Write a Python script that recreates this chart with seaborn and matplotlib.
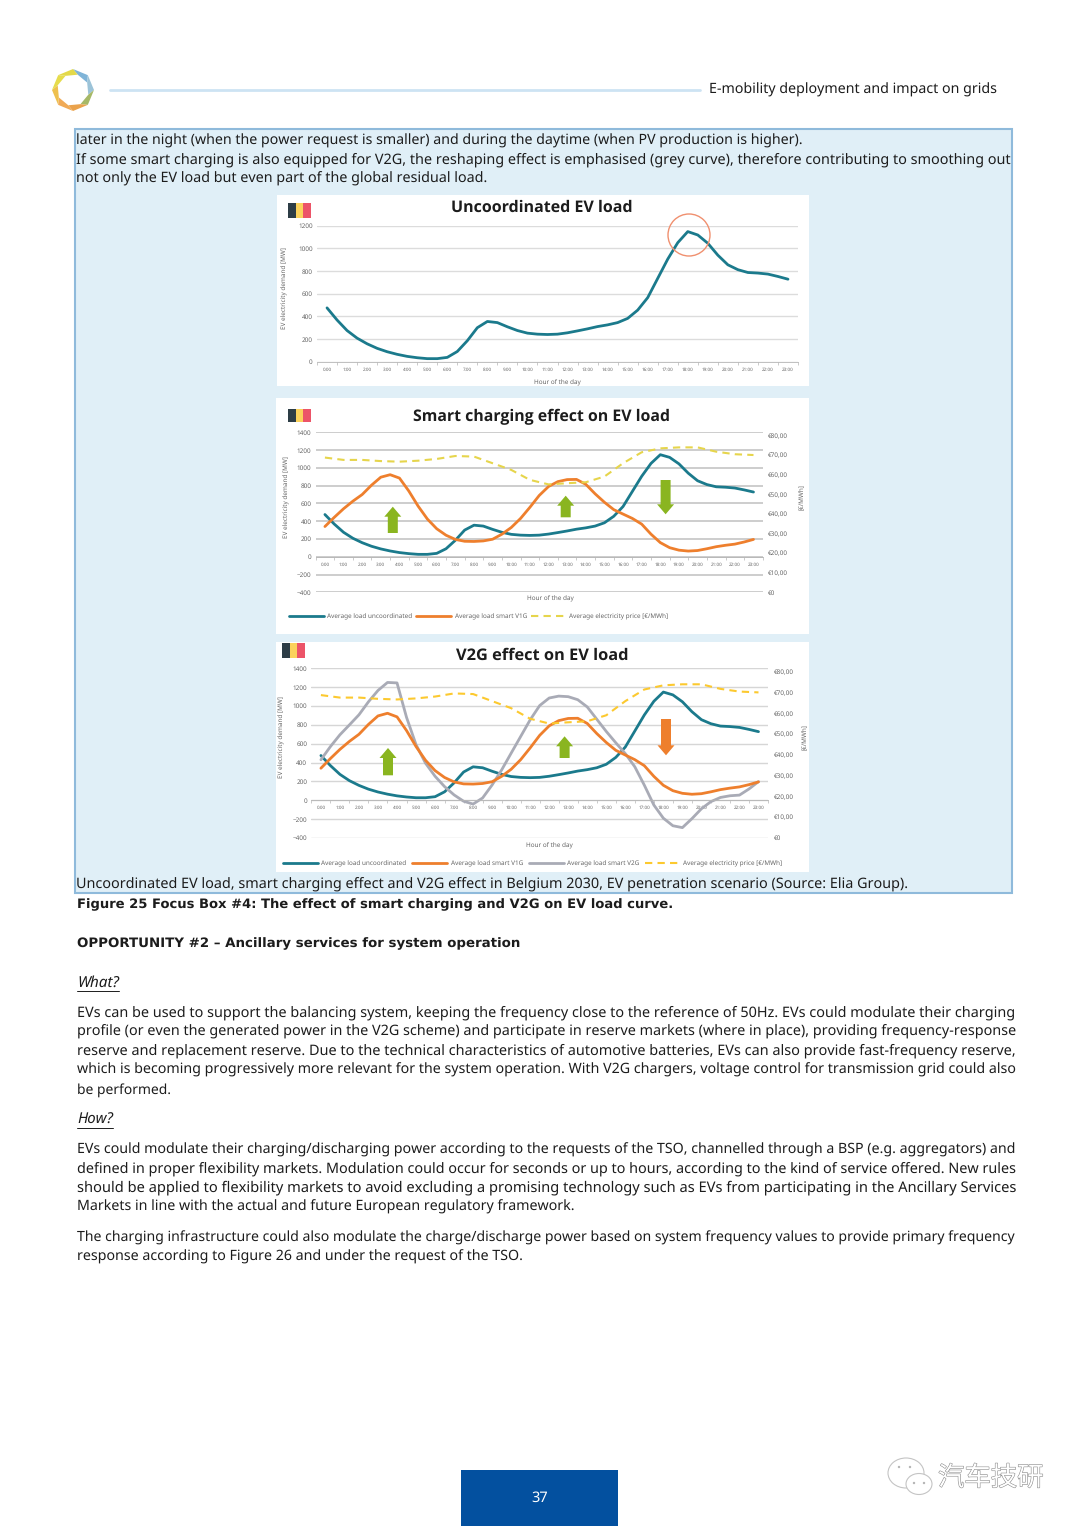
import matplotlib
matplotlib.use("Agg")
import matplotlib.pyplot as plt
import matplotlib.patheffects as pe
from matplotlib.lines import Line2D
from matplotlib.patches import Circle, Ellipse, FancyArrow, Polygon, Rectangle
import numpy as np
import pandas as pd
import seaborn as sns

sns.set_theme(style="white")
plt.rcParams['font.family'] = ['Noto Sans', 'DejaVu Sans']
plt.rcParams['text.hinting'] = 'no_hinting'

W, H = 1080, 1526

# values, half-hourly from 0:00 to 23:00
half_hours = [i / 2 for i in range(47)]
uncoordinated = [475, 368, 275, 208, 158, 118, 88, 65, 47, 35, 27, 27, 38, 90, 185, 300,
                 355, 345, 308, 275, 252, 243, 240, 243, 255, 272, 290, 310, 325, 345, 382, 455,
                 565, 735, 905, 1050, 1148, 1118, 1045, 940, 855, 812, 787, 782, 773, 752, 728]
smart_v1g = [340, 443, 540, 625, 700, 805, 895, 923, 885, 740, 570, 424, 315, 242, 195, 174,
             172, 178, 197, 254, 329, 431, 556, 689, 790, 845, 868, 870, 815, 708, 613, 530,
             480, 431, 367, 254, 159, 102, 74, 64, 70, 90, 113, 129, 142, 166, 195]
smart_v2g = [430, 570, 695, 800, 907, 1045, 1165, 1250, 1245, 880, 590, 393, 255, 145, 57, -10,
             -40, 25, 163, 322, 500, 677, 854, 1005, 1085, 1105, 1099, 1067, 990, 860, 730, 610,
             495, 355, 160, -50, -190, -270, -290, -195, -90, -14, 30, 48, 55, 120, 198]

# hourly price on the right axis
hours = list(range(24))
price = [68.8, 67.6, 67.6, 67.0, 66.7, 67.2, 68.1, 69.6, 69.3, 65.9, 62.5, 57.4,
         55.1, 55.7, 56.2, 59.1, 65.9, 71.5, 73.5, 74.0, 74.0, 71.8, 70.5, 70.1]

hour_labels = [f"{h}:00" for h in hours]
load_ticks_1 = [0, 200, 400, 600, 800, 1000, 1200]
load_ticks_2 = [-400, -200, 0, 200, 400, 600, 800, 1000, 1200, 1400]
price_ticks = [0, 10, 20, 30, 40, 50, 60, 70, 80]
price_labels = ["€0"] + [f"€{p},00" for p in price_ticks[1:]]

TEAL = '#1b7a8c'
ORANGE = '#ee7f2d'
GREY = '#a9abb6'
YELLOW = '#fcc92f'
PALE_YELLOW = '#e6d54c'
GREEN = '#8ab520'
LABEL = '#666666'

load_df = pd.DataFrame({'hour': half_hours, 'uncoordinated': uncoordinated,
                        'v1g': smart_v1g, 'v2g': smart_v2g})
price_df = pd.DataFrame({'hour': hours, 'price': price})

fig = plt.figure(figsize=(W / 100, H / 100), dpi=100, facecolor='white')

# page layer in pixel coordinates
bg = fig.add_axes([0, 0, 1, 1], zorder=0)
top = fig.add_axes([0, 0, 1, 1], zorder=5)
for a in (bg, top):
    a.set_xlim(0, W)
    a.set_ylim(H, 0)
    a.axis('off')
    a.patch.set_alpha(0)

renderer = fig.canvas.get_renderer()


def fit_text(x, y, s, right=None, size=10.5, ax=bg, color='#1c1c1c', **kw):
    # scale the font so that the line ends where it ends in the picture
    t = ax.text(x, y + 1, s, va='center', ha='left', fontsize=size, color=color, **kw)
    if right is not None:
        for _ in range(2):
            width = t.get_window_extent(renderer).width
            t.set_fontsize(t.get_fontsize() * (right - x) / width)
    return t


def flag(x0, x1, y0, y1):
    w = (x1 - x0) / 3
    for i, c in enumerate(['#2d3d46', '#fbd25c', '#ec5468']):
        bg.add_patch(Rectangle((x0 + i * w, y0), w, y1 - y0, color=c, lw=0, zorder=3))


def arrow(x, y0, y1, color):
    # y0 is the tail, y1 the tip
    top.add_patch(FancyArrow(x, y0, 0, y1 - y0, width=10, head_width=17, head_length=10,
                             length_includes_head=True, color=color, lw=0))


def load_axes(left, right, y_top, y_bot, ymin, ymax, ticks, grid, lw):
    ax = fig.add_axes([left / W, 1 - y_bot / H, (right - left) / W, (y_bot - y_top) / H], zorder=2)
    ax.patch.set_alpha(0)
    ax.set_xlim(-0.5, 23.5)
    ax.set_ylim(ymin, ymax)
    ax.set_yticks(ticks)
    ax.tick_params(axis='y', length=0, labelsize=4.6, labelcolor=LABEL, pad=3)
    ax.set_xticks(hours)
    ax.set_xticklabels(hour_labels)
    ax.tick_params(axis='x', which='major', length=0, labelsize=3.3, labelcolor=LABEL, pad=4)
    ax.set_xticks([h - 0.5 for h in hours] + [23.5], minor=True)
    ax.tick_params(axis='x', which='minor', length=2, width=0.5, color='#b5b5b5', bottom=True)
    ax.grid(axis='y', color=grid, lw=lw)
    ax.set_axisbelow(True)
    sns.despine(ax=ax, left=True, top=True, right=True)
    ax.spines['bottom'].set_position(('data', 0))
    ax.spines['bottom'].set_color('#b5b5b5')
    ax.spines['bottom'].set_linewidth(0.6)
    ax.set_xlabel('')
    return ax


def price_axes(ax, top_value):
    ax2 = ax.twinx()
    ax2.set_ylim(0, top_value)
    ax2.set_yticks(price_ticks)
    ax2.set_yticklabels(price_labels)
    ax2.tick_params(axis='y', length=0, labelsize=4.6, labelcolor=LABEL, pad=4)
    ax2.grid(False)
    ax2.patch.set_alpha(0)
    for s in ax2.spines.values():
        s.set_visible(False)
    return ax2


def draw_load(ax, col, color, lw):
    sns.lineplot(data=load_df, x='hour', y=col, color=color, lw=lw, ax=ax,
                 errorbar=None, solid_capstyle='round', solid_joinstyle='round')
    ax.set_xlabel('')
    ax.set_ylabel('')


def draw_price(ax, color):
    sns.lineplot(data=price_df, x='hour', y='price', color=color, lw=1.5, ax=ax,
                 errorbar=None, linestyle=(0, (3.5, 2.5)))
    ax.set_xlabel('')
    ax.set_ylabel('')


def legend_at(x, y, handles, spacing):
    leg = top.legend(handles=handles, loc='center left', bbox_to_anchor=(x, y),
                     bbox_transform=top.transData, ncol=len(handles), frameon=False,
                     fontsize=4.6, labelcolor=LABEL, handlelength=5.5, handletextpad=0.5,
                     columnspacing=spacing, borderpad=0, borderaxespad=0)
    top.add_artist(leg)
    top.legend_ = None


# page furniture
bg.plot([110, 700], [90, 90], color='#cde3f3', lw=2)
fit_text(709, 89, "E-mobility deployment and impact on grids", right=997)

logo_colors = ['#7fb4d8', '#9cc3d8', '#a6b866', '#eaa24c', '#f0aa57', '#eec04e', '#e6dc4c', '#e3d94a']
for i, c in enumerate(logo_colors):
    a0, a1 = np.radians(-67.5 + 45 * i - 22.5), np.radians(-67.5 + 45 * i + 22.5)
    bg.add_patch(Polygon([(73 + 21 * np.cos(a0), 90 + 21 * np.sin(a0)),
                          (73 + 21 * np.cos(a1), 90 + 21 * np.sin(a1)),
                          (73 + 16 * np.cos(a1 + 0.3), 90 + 16 * np.sin(a1 + 0.3)),
                          (73 + 16 * np.cos(a0 + 0.3), 90 + 16 * np.sin(a0 + 0.3))],
                         color=c, lw=0))

bg.add_patch(Rectangle((75, 129), 937, 764, facecolor='#e0eff7', edgecolor='#8fbadb', lw=1.5))
for x0, x1, y0, y1 in [(277, 809, 195, 386), (276, 809, 398, 634), (276, 809, 642, 872)]:
    bg.add_patch(Rectangle((x0, y0), x1 - x0, y1 - y0, color='white', lw=0, zorder=2))

bg.add_patch(Rectangle((461, 1470), 157, 56, color='#03509f', lw=0))
bg.text(540, 1498, "37", color='white', fontsize=10.5, ha='center', va='center')

# box text
fit_text(76, 140, "later in the night (when the power request is smaller) and during the daytime (when PV production is higher).", right=803)
fit_text(76, 159, "If some smart charging is also equipped for V2G, the reshaping effect is emphasised (grey curve), therefore contributing to smoothing out", right=1010)
fit_text(76, 178, "not only the EV load but even part of the global residual load.", right=487)
fit_text(76, 883, "Uncoordinated EV load, smart charging effect and V2G effect in Belgium 2030, EV penetration scenario (Source: Elia Group).", right=908)

# chart 1
flag(288, 311, 203, 218)
fit_text(451, 207, "Uncoordinated EV load", right=633, family='Open Sans', fontweight='bold', zorder=3)
ax1 = load_axes(317, 798, 225.7, 361.7, 0, 1200, load_ticks_1, '#dcdcdc', 1.0)
draw_load(ax1, 'uncoordinated', TEAL, 2.0)
top.add_patch(Circle((689, 235), 21, fill=False, edgecolor='#f0906f', lw=1))
top.text(285, 288, "EV electricity demand [MW]", rotation=90, fontsize=4.6, color=LABEL, ha='center', va='center')
top.text(557, 383, "Hour of the day", fontsize=4.6, color=LABEL, ha='center', va='center')

# chart 2
flag(288, 311, 409, 422)
fit_text(413, 416, "Smart charging effect on EV load", right=670, family='Open Sans', fontweight='bold', zorder=3)
ax2 = load_axes(315.6, 762.8, 432.3, 592.3, -400, 1400, load_ticks_2, '#c9c9c9', 1.3)
draw_load(ax2, 'uncoordinated', TEAL, 2.0)
draw_load(ax2, 'v1g', ORANGE, 2.0)
ax2r = price_axes(ax2, 81.7)
draw_price(ax2r, PALE_YELLOW)
top.text(287, 497, "EV electricity demand [MW]", rotation=90, fontsize=4.6, color=LABEL, ha='center', va='center')
top.text(550, 599, "Hour of the day", fontsize=4.6, color=LABEL, ha='center', va='center')
top.text(802, 497, "[€/MWh]", rotation=90, fontsize=4.6, color=LABEL, ha='center', va='center')
arrow(392.8, 533, 506.7, GREEN)
arrow(565.7, 517.3, 495.7, GREEN)
arrow(665.6, 480, 514.3, GREEN)
legend_at(289, 617, [Line2D([], [], color=TEAL, lw=2, label="Average load uncoordinated"),
                     Line2D([], [], color=ORANGE, lw=2, label="Average load smart V1G"),
                     Line2D([], [], color=PALE_YELLOW, lw=1.5, ls=(0, (3.5, 2.5)), label="Average electricity price [€/MWh]")], 0.6)

# chart 3
flag(282, 305, 643, 658)
fit_text(456, 655, "V2G effect on EV load", right=628, family='Open Sans', fontweight='bold', zorder=3)
ax3 = load_axes(311.4, 768, 668.3, 838, -400, 1400, load_ticks_2, '#d6d6d6', 1.0)
draw_load(ax3, 'uncoordinated', TEAL, 2.0)
draw_load(ax3, 'v2g', GREY, 2.0)
draw_load(ax3, 'v1g', ORANGE, 2.0)
ax3r = price_axes(ax3, 81.7)
draw_price(ax3r, YELLOW)
top.text(282, 737, "EV electricity demand [MW]", rotation=90, fontsize=4.6, color=LABEL, ha='center', va='center')
top.text(549, 846, "Hour of the day", fontsize=4.6, color=LABEL, ha='center', va='center')
top.text(805, 737, "[€/MWh]", rotation=90, fontsize=4.6, color=LABEL, ha='center', va='center')
arrow(388, 775.3, 748, GREEN)
arrow(564.6, 758, 736.3, GREEN)
arrow(666, 719, 755.3, ORANGE)
legend_at(283, 864, [Line2D([], [], color=TEAL, lw=2, label="Average load uncoordinated"),
                     Line2D([], [], color=ORANGE, lw=2, label="Average load smart V1G"),
                     Line2D([], [], color=GREY, lw=2, label="Average load smart V2G"),
                     Line2D([], [], color=YELLOW, lw=1.5, ls=(0, (3.5, 2.5)), label="Average electricity price [€/MWh]")], 0.9)

# body text
fit_text(77, 904, "Figure 25 Focus Box #4: The effect of smart charging and V2G on EV load curve.", right=678, family='DejaVu Sans', fontweight='bold')
fit_text(77, 943, "OPPORTUNITY #2 – Ancillary services for system operation", right=520, family='DejaVu Sans', fontweight='bold')

for x1, y, s in [(119, 982, "What?"), (113, 1119, "How?")]:
    fit_text(77, y, s, right=x1, fontstyle='italic')
    bg.plot([77, x1], [y + 9, y + 9], color='#1c1c1c', lw=0.7)

body_lines = [
    (1012, 1015, "EVs can be used to support the balancing system, keeping the frequency close to the reference of 50Hz. EVs could modulate their charging"),
    (1031, 1016, "profile (or even the generated power in the V2G scheme) and participate in reserve markets (where in place), providing frequency-response"),
    (1050, 1016, "reserve and replacement reserve. Due to the technical characteristics of automotive batteries, EVs can also provide fast-frequency reserve,"),
    (1069, 1015, "which is becoming progressively more relevant for the system operation. With V2G chargers, voltage control for transmission grid could also"),
    (1089, 171, "be performed."),
    (1149, 1016, "EVs could modulate their charging/discharging power according to the requests of the TSO, channelled through a BSP (e.g. aggregators) and"),
    (1168, 1016, "defined in proper flexibility markets. Modulation could occur for seconds or up to hours, according to the kind of service offered. New rules"),
    (1187, 1016, "should be applied to flexibility markets to avoid excluding a promising technology such as EVs from participating in the Ancillary Services"),
    (1206, 575, "Markets in line with the actual and future European regulatory framework."),
    (1237, 1015, "The charging infrastructure could also modulate the charge/discharge power based on system frequency values to provide primary frequency"),
    (1256, 523, "response according to Figure 26 and under the request of the TSO."),
]
for y, x1, s in body_lines:
    fit_text(77, y, s, right=x1)

# watermark
for x, y, w, h in [(906, 1473, 36, 30), (919, 1484, 26, 21)]:
    top.add_patch(Ellipse((x, y), w, h, facecolor='white', edgecolor='#c4c4c4', lw=0.8))
for x, y in [(899, 1467), (910, 1467), (914, 1483), (924, 1483)]:
    top.add_patch(Circle((x, y), 1.2, color='#b5b5b5', lw=0))
top.text(938, 1478, "汽车技研", family=['Noto Sans CJK SC', 'DejaVu Sans'], fontsize=19, color='white',
         va='center', ha='left', path_effects=[pe.withStroke(linewidth=0.8, foreground='#8a8a8a')])

fig.savefig('out.png', dpi=100)
